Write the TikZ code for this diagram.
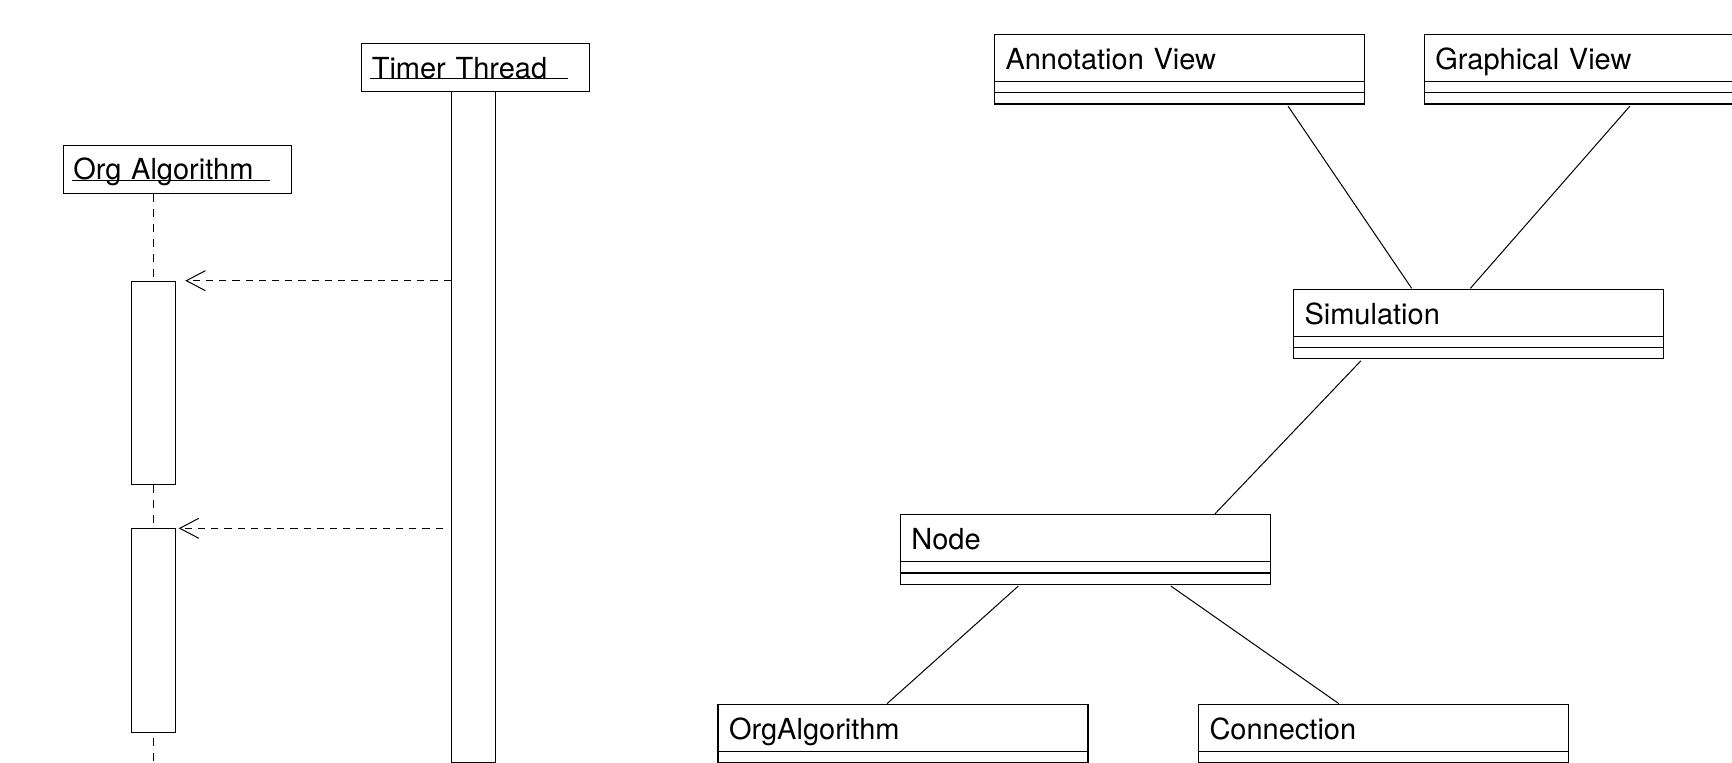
\documentclass[tikz,border=0pt]{standalone}
\usepackage{fontspec}
\setmainfont{TeX Gyre Heros}
\usetikzlibrary{arrows.meta, positioning}
\newcommand\umlfont{\fontsize{14.5pt}{17pt}\selectfont}
\tikzset{
  objbox/.style     = {draw, line width=0.6pt, anchor=north west, minimum height=24pt,
                       inner xsep=5pt, text width=104pt, align=left,
                       text height=10.5pt, text depth=0pt, font=\umlfont},
  actbox/.style     = {draw, line width=0.6pt, anchor=north west, minimum width=22pt,
                       inner sep=0pt, fill=white},
  lifeline/.style   = {line width=0.6pt, dash pattern=on 4pt off 3.5pt},
  msg/.style        = {line width=0.5pt, dash pattern=on 3.6pt off 3pt,
                       -{Straight Barb[length=9.5pt, width=10pt]}},
  underl/.style     = {line width=0.5pt},
  classname/.style  = {draw, line width=0.6pt, anchor=north west, minimum height=23.5pt,
                       outer sep=0pt, inner xsep=5.5pt, text width=174pt, align=left,
                       text height=11.5pt, text depth=0pt, font=\umlfont},
  classpart/.style  = {draw, line width=0.6pt, minimum width=185pt, minimum height=5.6pt,
                       outer sep=0pt, inner sep=0pt},
  assoc/.style      = {line width=0.5pt},
}

\begin{document}
\begin{tikzpicture}[x=0.5pt, y=-0.5pt]
  \useasboundingbox (0,0) rectangle (1732,763);
  \clip (0,0) rectangle (1732,763);

  % sequence part
  \node[objbox] (timer)  at (361.2,43.1)  {Timer Thread};
  \node[objbox] (orgObj) at (62.7,144.7)  {Org Algorithm};
  \foreach \ob in {timer, orgObj}
    \draw[underl] ([xshift=4.5pt, yshift=-0.4pt]\ob.base west)
               -- ([xshift=-11pt, yshift=-0.4pt]\ob.base east);

  \node[actbox, minimum height=335.5pt] (tact) at (450.7,90.6)  {};
  \node[actbox, minimum height=101.8pt] (act1) at (130.5,280.7) {};
  \node[actbox, minimum height=101.7pt] (act2) at (130.5,528.3) {};
  \coordinate (lifeEnd) at (152.5,763);

  \draw[lifeline] (act1.north |- orgObj.south) -- (act1.north);
  \draw[lifeline] (act1.south) -- (act2.north);
  \draw[lifeline, shorten <=2.5pt] (act2.south) -- (act1.north |- lifeEnd);

  \draw[msg] (tact.west |- act1.north) -- ([xshift=4.8pt]act1.north east);
  \draw[msg, shorten <=4pt] (tact.west |- act2.north) -- ([xshift=1.5pt]act2.north east);

  % class part
  \foreach \nm/\px/\py/\txt in {ann/994.5/34.7/Annotation View,
                                gra/1424.3/34.7/Graphical View,
                                sim/1293.5/289.4/Simulation,
                                nod/900.3/514.7/Node,
                                orgalg/718/704.7/OrgAlgorithm,
                                con/1198.5/704.7/Connection} {
    \node[classname] (\nm) at (\px,\py) {\txt};
    \node[classpart, below=0pt of \nm] (\nm-a) {};
    \node[classpart, below=0pt of \nm-a] (\nm-o) {};
  }

  \draw[assoc] ([xshift=146.75pt, yshift=-1pt]ann-o.south west) -- ([xshift=59.1pt, yshift=0.5pt]sim.north west);
  \draw[assoc] ([xshift=102.8pt, yshift=-1pt]gra-o.south west)  -- ([xshift=88.4pt, yshift=0.5pt]sim.north west);
  \draw[assoc] ([xshift=33.7pt, yshift=-1pt]sim-o.south west)   -- ([xshift=157.4pt, yshift=0.5pt]nod.north west);
  \draw[assoc] ([xshift=59pt, yshift=-1pt]nod-o.south west)     -- ([xshift=84.5pt, yshift=0.5pt]orgalg.north west);
  \draw[assoc] ([xshift=135.3pt, yshift=-1pt]nod-o.south west)  -- ([xshift=70.2pt, yshift=0.5pt]con.north west);
\end{tikzpicture}
\end{document}
